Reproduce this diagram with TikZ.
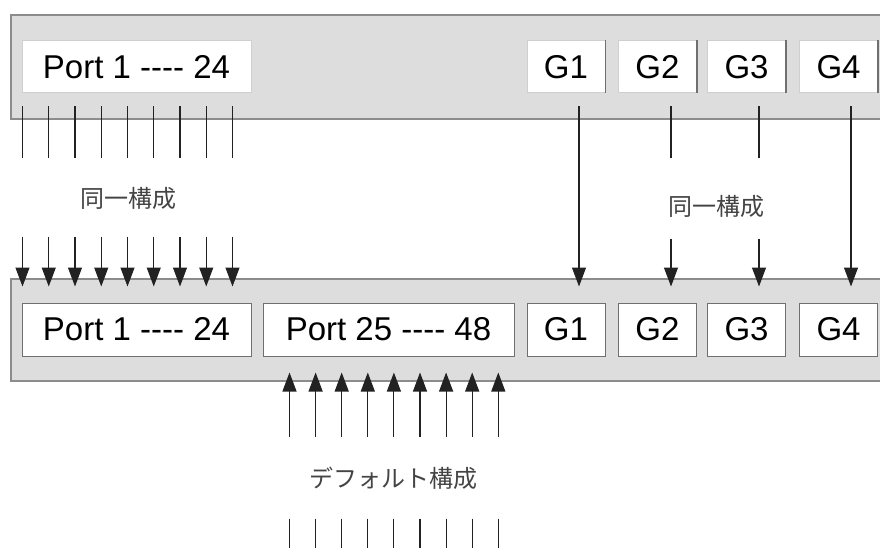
\documentclass[tikz,border=0pt]{standalone}
\usepackage{fontspec}
\setmainfont{Liberation Sans}[Ligatures=TeXOff]
\newfontfamily\jpfont{Noto Sans CJK JP}
\usetikzlibrary{arrows.meta,calc}
\definecolor{chassis}{HTML}{DDDDDD}
\definecolor{chedge}{HTML}{8C8C8C}
\definecolor{boxedgelight}{HTML}{CFCFCF}
\definecolor{boxedgedark}{HTML}{707070}
\definecolor{linecol}{HTML}{222222}
\definecolor{jptext}{HTML}{444444}
\tikzset{
  chassisbox/.style={draw=chedge, line width=1.3pt, fill=chassis},
  portbox/.style={draw=#1, line width=1pt, fill=white, inner sep=0pt,
    font=\fontsize{33}{33}\selectfont, text=black},
  portbox/.default=boxedgelight,
  wire/.style={draw=linecol, line width=1.1pt},
  arrowwire/.style={wire, -{Triangle[width=14pt,length=19pt]}},
  jplabel/.style={font=\jpfont\fontsize{24}{24}\selectfont, text=jptext, inner sep=0pt}
}
\begin{document}
\begin{tikzpicture}[x=1pt,y=-1pt]
\useasboundingbox (0,0) rectangle (880,548);
\clip (0,0) rectangle (880,548);
\fill[white] (0,0) rectangle (880,548);
% chassis
\draw[chassisbox] (11,15) rectangle (900,119);
\draw[chassisbox] (11,279) rectangle (900,381);
% top boxes
\node[portbox, minimum width=229pt, minimum height=52pt] (p1t) at (136.5,67) {Port 1 -{}-{}-{}- 24};
\node[portbox, minimum width=78pt, minimum height=52pt] (g1t) at (566,67) {G1};
\node[portbox, minimum width=78pt, minimum height=52pt] (g2t) at (657.5,67) {G2};
\node[portbox, minimum width=78pt, minimum height=52pt] (g3t) at (746.5,67) {G3};
\node[portbox, minimum width=78pt, minimum height=52pt] (g4t) at (838.5,67) {G4};
\foreach \g in {g1t,g2t,g3t,g4t}
  \draw[boxedgedark, line width=1.3pt] (\g.north east) -- (\g.south east);
% bottom boxes
\node[portbox=boxedgedark, minimum width=229pt, minimum height=53pt] (p1b) at (136.5,329.5) {Port 1 -{}-{}-{}- 24};
\node[portbox=boxedgedark, minimum width=251pt, minimum height=53pt] (p25b) at (388.5,329.5) {Port 25 -{}-{}-{}- 48};
\node[portbox=boxedgedark, minimum width=78pt, minimum height=53pt] (g1b) at (566,329.5) {G1};
\node[portbox=boxedgedark, minimum width=78pt, minimum height=53pt] (g2b) at (657.5,329.5) {G2};
\node[portbox=boxedgedark, minimum width=78pt, minimum height=53pt] (g3b) at (746.5,329.5) {G3};
\node[portbox=boxedgedark, minimum width=78pt, minimum height=53pt] (g4b) at (838.5,329.5) {G4};
% labels
\node[jplabel] (same1) at (128,198) {同一構成};
\node[jplabel] (same2) at (716,206) {同一構成};
\node[jplabel] (deflt) at (393,478) {デフォルト構成};
% port 1-24 wires
\foreach \i in {0,...,8} {
  \coordinate (ta\i) at ($(p1t.south west)+(1+26.25*\i,13)$);
  \coordinate (tb\i) at ($(p1t.south west)+(1+26.25*\i,65)$);
  \coordinate (tc\i) at ($(p1b.north west)+(1+26.25*\i,-66)$);
  \coordinate (td\i) at ($(p1b.north west)+(1+26.25*\i,-16)$);
  \draw[wire] (ta\i) -- (tb\i);
  \draw[arrowwire] (tc\i) -- (td\i);
}
% G wires
\draw[arrowwire] ($(g1t.south)+(13,13)$) coordinate (g1s) -- ($(g1b.north)+(13,-16)$);
\draw[arrowwire] ($(g4t.south)+(12.5,13)$) coordinate (g4s) -- ($(g4b.north)+(12.5,-16)$);
\foreach \a/\b/\dx in {g2t/g2b/13.5, g3t/g3b/12.5} {
  \draw[wire] ($(\a.south)+(\dx,13)$) -- ($(\a.south)+(\dx,65)$);
  \draw[arrowwire] ($(\b.north)+(\dx,-64)$) -- ($(\b.north)+(\dx,-16)$);
}
% port 25-48 wires
\foreach \i in {0,...,8} {
  \coordinate (ba\i) at ($(p25b.south west)+(27+26.1*\i,80)$);
  \coordinate (bb\i) at ($(p25b.south west)+(27+26.1*\i,16)$);
  \coordinate (bc\i) at ($(p25b.south west)+(27+26.1*\i,162)$);
  \coordinate (bd\i) at ($(p25b.south west)+(27+26.1*\i,200)$);
  \draw[arrowwire] (ba\i) -- (bb\i);
  \draw[wire] (bc\i) -- (bd\i);
}
\end{tikzpicture}
\end{document}
